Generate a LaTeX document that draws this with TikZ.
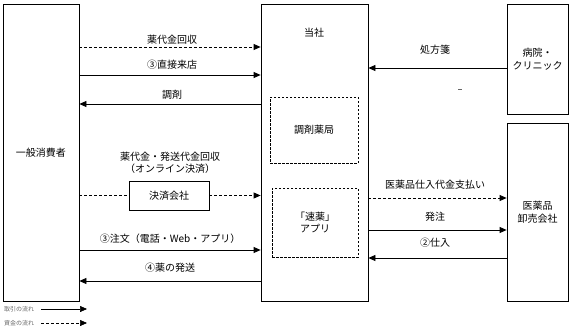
\documentclass[tikz,border=0pt]{standalone}
\usepackage{fontspec}
\setmainfont{Noto Sans CJK JP}
\usetikzlibrary{arrows.meta,positioning}
\tikzset{
  box/.style={draw=black,line width=0.8pt,inner sep=0pt,align=center},
  subbox/.style={draw=black,line width=0.6pt,dash pattern=on 2.5pt off 1.5pt,inner sep=0pt,align=center},
  flow/.style={-{Triangle[length=7pt,width=6pt]},line width=0.8pt},
  money/.style={flow,dash pattern=on 3pt off 2pt},
  lbl/.style={font=\fontsize{10}{12.5}\selectfont,inner sep=0pt},
  legtxt/.style={font=\fontsize{6}{7}\selectfont,text=black!60,inner sep=0pt,anchor=west}
}
\begin{document}
\begin{tikzpicture}[x=1pt,y=-1pt,lbl]
  \useasboundingbox (0,0) rectangle (573,332);
  % parties
  \node[box,minimum width=76pt,minimum height=297pt] (cons) at (41,152.5) {一般消費者};
  \node[box,minimum width=107pt,minimum height=297pt] (co) at (314.5,152.5) {};
  \node (colab) at (314,33) {当社};
  \node[subbox,minimum width=88pt,minimum height=66pt] (pharm) at (314,130) {調剤薬局};
  \node[subbox,minimum width=86pt,minimum height=69pt] (app) at (315,222.5) {「速薬」\\アプリ};
  \node[box,minimum width=61pt,minimum height=110pt] (hosp) at (537.5,59) {病院・\\クリニック};
  \node[box,minimum width=61pt,minimum height=178pt] (whol) at (537.5,212) {医薬品\\卸売会社};
  \node[box,minimum width=80pt,minimum height=29pt] (pay) at (169,195.5) {決済会社};

  % consumer <-> company
  \draw[money] (cons.east |- 0,47) -- (co.west |- 0,47);
  \node (l1) at (172,40) {薬代金回収};
  \draw[flow] (cons.east |- 0,75) -- (co.west |- 0,75);
  \node (l2) at (172,65) {③直接来店};
  \draw[flow] (co.west |- 0,104) -- (cons.east |- 0,104);
  \node (l3) at (172,95) {調剤};
  \node[align=center] (l4) at (170,163) {薬代金・発送代金回収\\（オンライン決済）};
  \draw[line width=0.8pt,dash pattern=on 3pt off 2pt] (cons.east |- pay) -- (pay.west);
  \draw[money] (pay.east) -- (co.west |- pay);
  \draw[flow] (cons.east |- 0,250) -- (co.west |- 0,250);
  \node (l5) at (170,239) {③注文（電話・Web・アプリ）};
  \draw[flow] (co.west |- 0,281) -- (cons.east |- 0,281);
  \node (l6) at (170,268) {④薬の発送};

  % hospital / wholesaler
  \draw[flow] (hosp.west |- 0,68) -- (co.east |- 0,68);
  \node (l7) at (435,50) {処方箋};
  \draw[line width=0.6pt,black!60] (458,89) -- (462,89);
  \draw[money] (co.east |- 0,198) -- (whol.west |- 0,198);
  \node (l8) at (435,185) {医薬品仕入代金支払い};
  \draw[flow] (co.east |- 0,230) -- (whol.west |- 0,230);
  \node (l9) at (435,217) {発注};
  \draw[flow] (whol.west |- 0,258) -- (co.east |- 0,258);
  \node (l10) at (435,243) {②仕入};

  % legend
  \node[legtxt] (leg1) at (4,309) {取引の流れ};
  \node[legtxt] (leg2) at (4,323) {資金の流れ};
  \coordinate (leg1e) at (87,309);
  \coordinate (leg2e) at (87,323);
  \draw[flow,line width=0.6pt] ([xshift=7pt]leg1.east) -- (leg1e);
  \draw[money,line width=0.6pt] ([xshift=7pt]leg2.east) -- (leg2e);
\end{tikzpicture}
\end{document}
